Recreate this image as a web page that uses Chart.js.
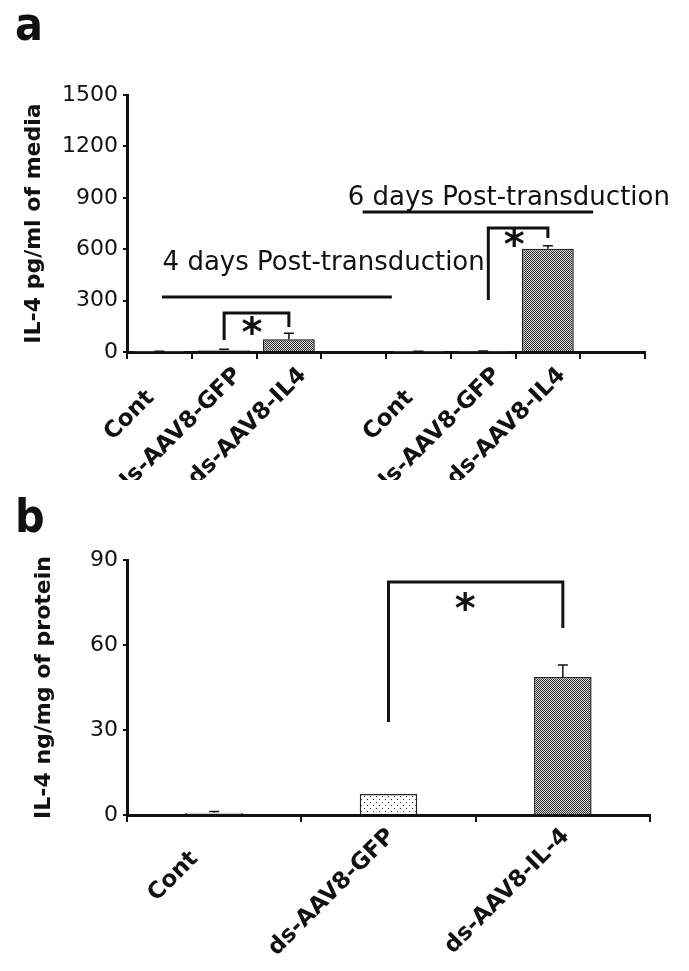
<!DOCTYPE html>
<html>
<head>
<meta charset="utf-8">
<script src="https://cdn.jsdelivr.net/npm/chart.js@4.4.1/dist/chart.umd.min.js"></script>
<style>
  body { margin: 0; background: #fff; width: 689px; height: 971px; position: relative; overflow: hidden; }
  .panel { position: absolute; left: 0; width: 689px; }
  .tag { position: absolute; left: 15px; font: bold 46px "Liberation Sans Narrow", "DejaVu Sans Condensed", sans-serif; line-height: 1; color: #111; }
</style>
</head>
<body>
<div class="panel" style="top:0;height:480px"><canvas id="chartA" width="689" height="480"></canvas></div>
<div class="panel" style="top:480px;height:491px"><canvas id="chartB" width="689" height="491"></canvas></div>
<div class="tag" style="top:1px">a</div>
<div class="tag" style="top:493px">b</div>
<script>
// panel a - IL-4 in culture media (pg/ml), 4 and 6 days after transduction
const labelsA = ['Cont', 'ds-AAV8-GFP', 'ds-AAV8-IL4', '', 'Cont', 'ds-AAV8-GFP', 'ds-AAV8-IL4', ''];
const valuesA = [2, 10, 74, null, 2, 3, 602, null];
const errorsA = [3, 6, 35, null, 3, 3, 18, null];
const ticksA = [0, 300, 600, 900, 1200, 1500];

// panel b - IL-4 in tissue (ng/mg of protein)
const labelsB = ['Cont', 'ds-AAV8-GFP', 'ds-AAV8-IL-4'];
const valuesB = [0.8, 7.4, 48.7];
const errorsB = [0.4, 0, 4.2];
const ticksB = [0, 30, 60, 90];

// annotations, in axis units (category index / value)
const groupsA = [
  { text: '4 days Post-transduction', x: 0.05, y: 480, from: 0.04, to: 3.59, lineY: 321 },
  { text: '6 days Post-transduction', x: 2.91, y: 858, from: 3.14, to: 6.70, lineY: 817 }
];
const bracketsA = [
  { from: 1, to: 2, lowL: 70, top: 228, lowR: 146, starX: 1.43, starY: 140 },
  { from: 5.08, to: 6, lowL: 303, top: 724, lowR: 665, starX: 5.48, starY: 654 }
];
const bracketsB = [
  { from: 1, to: 2, lowL: 32.8, top: 82.2, lowR: 66, starX: 1.44, starY: 74.6 }
];

const INK = '#111';
const FONT = 'DejaVu Sans';

// fills that imitate the hatched bars of the original figure
function pattern(ctx, kind) {
  const c = document.createElement('canvas');
  const g = c.getContext('2d');
  if (kind === 'check') {
    c.width = c.height = 2;
    g.fillStyle = '#dcdcdc'; g.fillRect(0, 0, 2, 2);
    g.fillStyle = '#2e2e2e'; g.fillRect(0, 0, 1, 1); g.fillRect(1, 1, 1, 1);
  } else if (kind === 'dots') {
    c.width = c.height = 6;
    g.fillStyle = '#fff'; g.fillRect(0, 0, 6, 6);
    g.fillStyle = '#333'; g.fillRect(1, 1, 1, 1); g.fillRect(4, 4, 1, 1);
  } else {
    c.width = c.height = 1;
    g.fillStyle = '#d2d2d2'; g.fillRect(0, 0, 1, 1);
  }
  return ctx.createPattern(c, 'repeat');
}

// error bars, group lines, brackets and stars
function overlay(errors, groups, brackets) {
  return {
    id: 'overlay',
    afterDatasetsDraw(chart) {
      const ctx = chart.ctx;
      const x = chart.scales.x, y = chart.scales.y;
      const data = chart.data.datasets[0].data;
      ctx.save();
      ctx.strokeStyle = INK;
      ctx.fillStyle = INK;

      ctx.lineWidth = 1.5;
      chart.getDatasetMeta(0).data.forEach((bar, i) => {
        const v = data[i], e = errors[i];
        if (v == null || !e) return;
        const yTop = y.getPixelForValue(v + e);
        ctx.beginPath();
        ctx.moveTo(bar.x, bar.y);
        ctx.lineTo(bar.x, yTop);
        ctx.moveTo(bar.x - 5, yTop);
        ctx.lineTo(bar.x + 5, yTop);
        ctx.stroke();
      });

      ctx.lineWidth = 3;
      ctx.font = '26px "' + FONT + '"';
      ctx.textAlign = 'left';
      ctx.textBaseline = 'alphabetic';
      groups.forEach(g => {
        const ly = y.getPixelForValue(g.lineY);
        ctx.beginPath();
        ctx.moveTo(x.getPixelForValue(g.from), ly);
        ctx.lineTo(x.getPixelForValue(g.to), ly);
        ctx.stroke();
        ctx.fillText(g.text, x.getPixelForValue(g.x), y.getPixelForValue(g.y));
      });

      brackets.forEach(b => {
        const xl = x.getPixelForValue(b.from), xr = x.getPixelForValue(b.to);
        const yt = y.getPixelForValue(b.top);
        ctx.lineWidth = 3;
        ctx.beginPath();
        ctx.moveTo(xl, y.getPixelForValue(b.lowL));
        ctx.lineTo(xl, yt);
        ctx.lineTo(xr, yt);
        ctx.lineTo(xr, y.getPixelForValue(b.lowR));
        ctx.stroke();
        ctx.font = 'bold 40px "' + FONT + '"';
        ctx.textAlign = 'center';
        ctx.textBaseline = 'middle';
        ctx.fillText('*', x.getPixelForValue(b.starX), y.getPixelForValue(b.starY) + 8);
      });
      ctx.restore();
    }
  };
}

function makeChart(id, o) {
  const ctx = document.getElementById(id).getContext('2d');
  return new Chart(ctx, {
    type: 'bar',
    data: {
      labels: o.labels,
      datasets: [{
        data: o.values,
        backgroundColor: o.fills.map(k => k ? pattern(ctx, k) : 'transparent'),
        borderColor: '#222',
        borderWidth: 1.5,
        barPercentage: o.barPct,
        categoryPercentage: 1
      }]
    },
    options: {
      responsive: false,
      animation: false,
      devicePixelRatio: 1,
      layout: { padding: o.padding },
      plugins: { legend: { display: false }, tooltip: { enabled: false } },
      scales: {
        x: {
          afterFit: s => { s.height = o.xHeight; },
          border: { color: INK, width: 3 },
          grid: { offset: true, drawOnChartArea: false, tickLength: 7, color: INK, lineWidth: 2 },
          ticks: {
            autoSkip: false, minRotation: 45, maxRotation: 45,
            padding: o.labelPad, labelOffset: o.labelShift,
            color: INK, font: { family: FONT, size: 23, weight: 'bold' },
            callback: function (v) {
              const t = this.getLabelForValue(v);
              return t === 'Cont' ? 'Cont    ' : t;
            }
          }
        },
        y: {
          min: o.ticks[0],
          max: o.ticks[o.ticks.length - 1],
          afterBuildTicks: s => { s.ticks = o.ticks.map(v => ({ value: v })); },
          afterFit: s => { s.width = 127; },
          border: { color: INK, width: 3 },
          grid: { drawOnChartArea: false, tickLength: 4, color: INK, lineWidth: 2 },
          ticks: { padding: 5, color: INK, font: { family: FONT, size: 22 }, callback: v => String(v) },
          title: {
            display: true, text: o.title, color: INK,
            font: { family: FONT, size: 22, weight: 'bold' },
            padding: { top: o.titlePad, bottom: 0 }
          }
        }
      }
    },
    plugins: [overlay(o.errors, o.groups, o.brackets)]
  });
}

makeChart('chartA', {
  labels: labelsA, values: valuesA, errors: errorsA, ticks: ticksA,
  fills: ['gray', 'dots', 'check', null, 'gray', 'dots', 'check', null],
  barPct: 0.8, padding: { top: 95, right: 44, left: 0, bottom: 0 },
  xHeight: 128, labelPad: 3, labelShift: 14, titlePad: 21,
  title: 'IL-4 pg/ml of media', groups: groupsA, brackets: bracketsA
});

makeChart('chartB', {
  labels: labelsB, values: valuesB, errors: errorsB, ticks: ticksB,
  fills: ['gray', 'dots', 'check'],
  barPct: 0.33, padding: { top: 80, right: 39, left: 0, bottom: 0 },
  xHeight: 156, labelPad: 1, labelShift: 3, titlePad: 31,
  title: 'IL-4 ng/mg of protein', groups: [], brackets: bracketsB
});
</script>
</body>
</html>
